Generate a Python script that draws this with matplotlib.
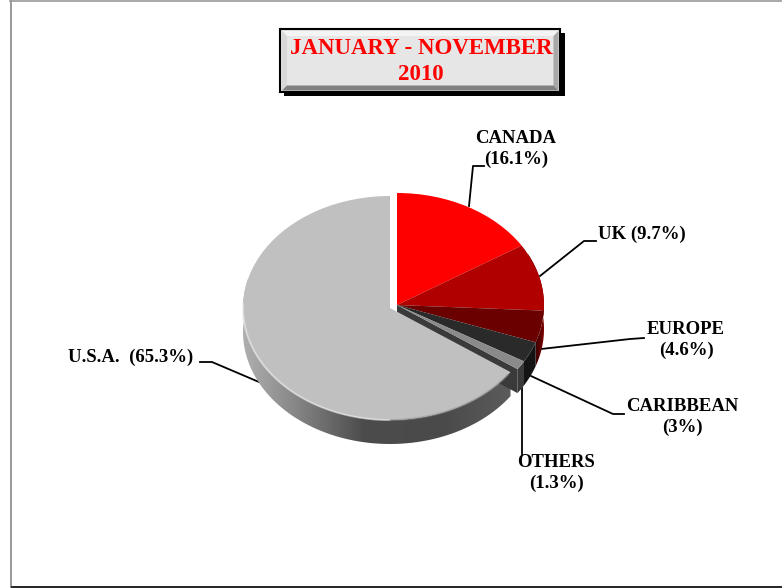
import numpy as np
import matplotlib
matplotlib.use('Agg')
from matplotlib import pyplot as plt
from matplotlib.patches import Polygon, Rectangle

# slices, clockwise from 12 o'clock
names = ['CANADA', 'UK', 'EUROPE', 'CARIBBEAN', 'OTHERS', 'U.S.A.']
shares = [16.1, 9.7, 4.6, 3.0, 1.3, 65.3]
colors = ['#ff0000', '#b00000', '#6b0000', '#2a2a2a', '#8a8a8a', '#c0c0c0']
labels = ['CANADA\n(16.1%)', 'UK (9.7%)', 'EUROPE\n(4.6%)', 'CARIBBEAN\n(3%)',
          'OTHERS\n(1.3%)', 'U.S.A.  (65.3%)']
title = 'JANUARY - NOVEMBER\n2010'

plt.rcParams['font.family'] = ['Liberation Serif', 'DejaVu Serif']
W, H = 782, 588
CX, CY = 397, 305      # apex of the red part
RX, RY = 147, 112
USA_CX, USA_CY = 390, 308
DEPTH = 24


def rim(a, cx, cy):
    # a = degrees clockwise from the top
    a = np.radians(a)
    return cx + RX*np.sin(a), cy - RY*np.cos(a)


def side(a0, a1, cx, cy, depth=DEPTH):
    # outline of the side wall below the rim between two angles
    t = np.linspace(a0, a1, 80)
    x, y = rim(t, cx, cy)
    return np.r_[x, x[::-1]], np.r_[y, (y + depth)[::-1]]


def grad_fill(ax, xy, stops, x0, x1, zorder):
    # horizontal gradient clipped to the polygon xy
    cmap = matplotlib.colors.LinearSegmentedColormap.from_list('g', stops)
    im = ax.imshow(np.linspace(0, 1, 256).reshape(1, -1), cmap=cmap, aspect='auto',
                   extent=(x0, x1, H, 0), zorder=zorder)
    im.set_clip_path(Polygon(np.c_[xy], transform=ax.transData))


fig = plt.figure(figsize=(W/100, H/100), dpi=100)
ax = fig.add_axes([0, 0, 1, 1])

edges = np.r_[0, np.cumsum(shares)] * 3.6

# side walls first
usa_a0 = edges[5]
grad_fill(ax, side(usa_a0, 285, USA_CX, USA_CY), [(0, '#b0b0b0'), (0.18, '#8a8a8a'),
          (0.45, '#4c4c4c'), (0.75, '#4a4a4a'), (1, '#5c5c5c')], 242, 512, 2)
grad_fill(ax, side(edges[1], edges[3], CX, CY), [(0, '#1a0000'), (0.6, '#4a0000'),
          (1, '#8a0000')], 528, 545, 2)
xs, ys = side(edges[3], edges[4], CX, CY)
ax.fill(xs, ys, color='#141414', lw=0, zorder=2)
xs, ys = side(edges[4], edges[5], CX, CY)
ax.fill(xs, ys, color='#3a3a3a', lw=0, zorder=2)
# cut face of the red group, seen in the gap next to the U.S.A. slice
ex, ey = rim(edges[5], CX, CY)
ax.add_patch(Polygon([(CX, CY), (ex, ey), (ex, ey + DEPTH), (CX, CY + DEPTH)],
                     fc='#3a3a3a', lw=0, zorder=2))

# top faces
wedges, _ = ax.pie(shares[:5] + [100 - sum(shares[:5])], colors=colors[:5] + ['none'],
                   startangle=90, counterclock=False, radius=1, center=(CX, CY),
                   wedgeprops={'lw': 0, 'zorder': 3}, frame=True)
usa, _ = ax.pie([100 - shares[5], shares[5]], colors=['none', colors[5]], startangle=90,
                counterclock=False, center=(USA_CX, USA_CY),
                wedgeprops={'lw': 0, 'zorder': 4}, frame=True)


def squash(patch, cx, cy):
    # pie makes circles, the chart is tilted so flatten them
    tr = (matplotlib.transforms.Affine2D().translate(-cx, -cy).scale(RX, -RY)
          .translate(cx, cy) + ax.transData)
    patch.set_transform(tr)


for w in wedges:
    squash(w, CX, CY)
for w in usa:
    squash(w, USA_CX, USA_CY)

# pale bevel along the front of the U.S.A. top face
x, y = rim(np.linspace(180, 272, 120), USA_CX, USA_CY)
ax.plot(x, y, color='#e8e8e8', lw=1.4, alpha=0.65, zorder=5)
x, y = rim(np.linspace(usa_a0 + 2, 180, 60), USA_CX, USA_CY)
ax.plot(x, y, color='#8c8c8c', lw=1.4, alpha=0.5, zorder=5)

# leader lines
leaders = [([469, 473, 484], [206, 166, 166]),
           ([540, 584, 596], [276, 241, 241]),
           ([541, 630, 644], [349, 339, 338]),
           ([531, 613, 624], [376, 414, 414]),
           ([522, 522], [388, 454]),
           ([259, 212, 200], [382, 362, 362])]
for lx, ly in leaders:
    ax.plot(lx, ly, color='k', lw=1.3, zorder=1)

# labels
label_pos = [(516, 149), (642, 234), (686, 340), (682, 417), (556, 473), (131, 357)]
for s, (tx, ty) in zip(labels, label_pos):
    ax.text(tx, ty, s, ha='center', va='center', fontsize=13.5, fontweight='bold',
            linespacing=1.35, zorder=6)

# title box with shadow and bevel
ax.add_patch(Rectangle((284, 33), 281, 63, fc='k', lw=0, zorder=2))
ax.add_patch(Rectangle((280, 29), 280, 63, fc='#e6e6e6', ec='k', lw=1.5, zorder=3))
bx0, bx1, by0, by1 = 282, 558.5, 31, 90.5
b = 5
ax.add_patch(Polygon([(bx0, by0), (bx1, by0), (bx1-b, by0+b), (bx0+b, by0+b)], fc='#f4f4f4', lw=0, zorder=4))
ax.add_patch(Polygon([(bx0, by0), (bx0+b, by0+b), (bx0+b, by1-b), (bx0, by1)], fc='#d8d8d8', lw=0, zorder=4))
ax.add_patch(Polygon([(bx1, by0), (bx1-b, by0+b), (bx1-b, by1-b), (bx1, by1)], fc='#a8a8a8', lw=0, zorder=4))
ax.add_patch(Polygon([(bx0, by1), (bx0+b, by1-b), (bx1-b, by1-b), (bx1, by1)], fc='#808080', lw=0, zorder=4))
ax.text(421, 61.5, title, ha='center', va='center', color='#ff0000', fontsize=16.5,
        fontweight='bold', linespacing=1.35, zorder=5)

# page frame
ax.plot([10.5, 10.5], [0, H], color='#999999', lw=1.4, zorder=1)
ax.plot([10, W], [1, 1], color='#999999', lw=1.2, zorder=1)
ax.plot([12, W], [586.5, 586.5], color='k', lw=1.2, zorder=1)

ax.set_xlim(0, W)
ax.set_ylim(H, 0)
ax.set_aspect('auto')
ax.axis('off')
fig.savefig('out.png', dpi=100)
